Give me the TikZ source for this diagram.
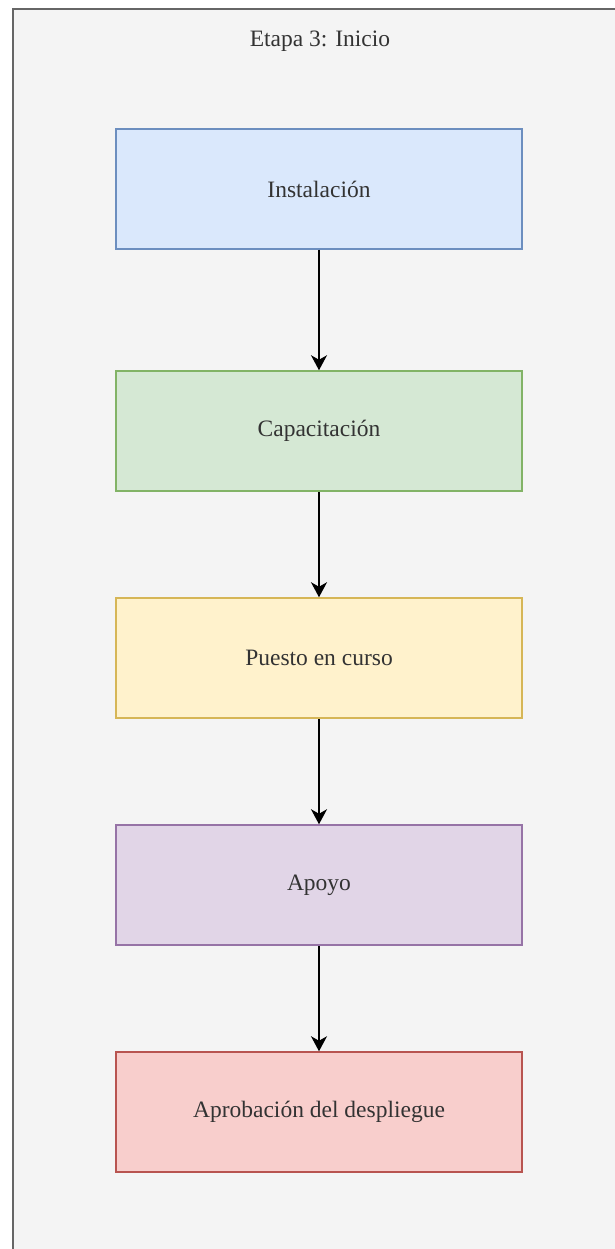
\documentclass[tikz,border=0pt]{standalone}
\usepackage{fontspec}
\setmainfont{Liberation Serif}
\usetikzlibrary{arrows.meta}
\definecolor{framebg}{HTML}{F4F4F4}
\definecolor{frameline}{HTML}{666666}
\definecolor{txt}{HTML}{333333}
\definecolor{blueF}{HTML}{DAE8FC}\definecolor{blueD}{HTML}{6C8EBF}
\definecolor{greenF}{HTML}{D5E8D4}\definecolor{greenD}{HTML}{82B366}
\definecolor{yellowF}{HTML}{FFF2CC}\definecolor{yellowD}{HTML}{D6B656}
\definecolor{purpleF}{HTML}{E1D5E7}\definecolor{purpleD}{HTML}{9673A6}
\definecolor{redF}{HTML}{F8CECC}\definecolor{redD}{HTML}{B85450}
\tikzset{
  label font/.style={text=txt, font=\fontsize{23.5}{28}\selectfont},
  stepbox/.style={draw, line width=1.5pt, minimum width=406pt, minimum height=120pt,
    inner sep=0pt, label font},
  flow/.style={line width=1.5pt, -{Stealth[length=15pt,width=16pt,inset=4.5pt]}}
}
\begin{document}
\begin{tikzpicture}[x=1pt,y=-1pt]
  \useasboundingbox (0,0) rectangle (614,1249);
  \fill[white] (0,0) rectangle (614,1249);
  % stage container, running past the right and bottom edges
  \filldraw[fill=framebg, draw=frameline, line width=2pt] (12.5,9) rectangle (640,1270);
  \node[label font] (title) at (320,41) {Etapa 3: Inicio};
  \node[stepbox, fill=blueF, draw=blueD] (s1) at (319,189) {Instalación};
  \node[stepbox, fill=greenF, draw=greenD] (s2) at (319,431) {Capacitación};
  \node[stepbox, fill=yellowF, draw=yellowD] (s3) at (319,658) {Puesto en curso};
  \node[stepbox, fill=purpleF, draw=purpleD] (s4) at (319,885) {Apoyo};
  \node[stepbox, fill=redF, draw=redD] (s5) at (319,1112) {Aprobación del despliegue};
  \draw[flow] (s1) -- (s2);
  \draw[flow] (s2) -- (s3);
  \draw[flow] (s3) -- (s4);
  \draw[flow] (s4) -- (s5);
\end{tikzpicture}
\end{document}
